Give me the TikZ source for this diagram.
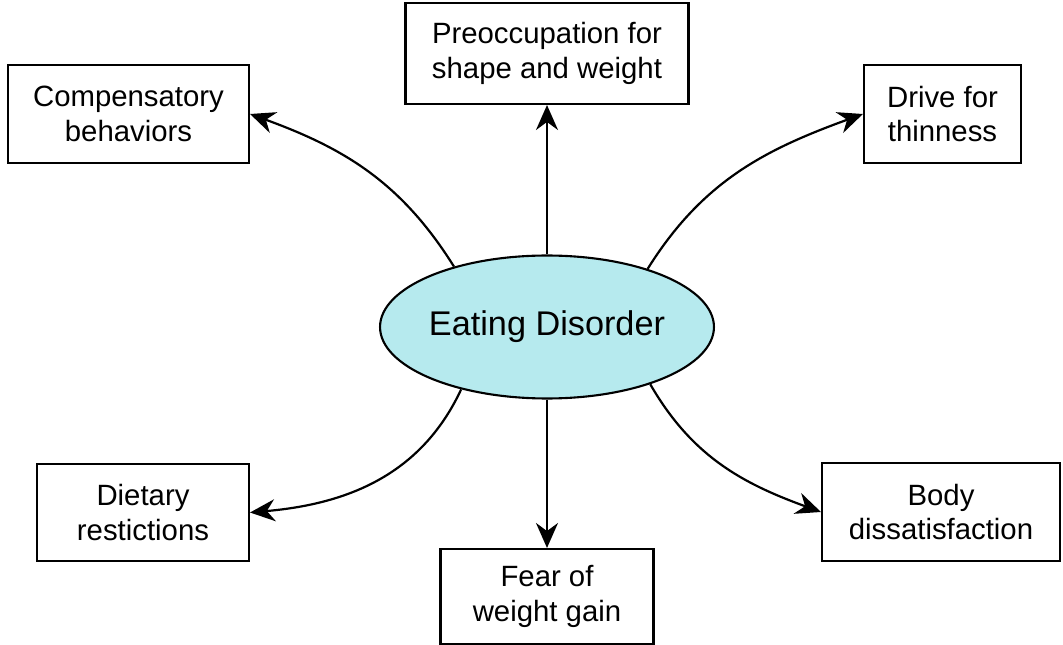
\documentclass[tikz,border=0pt]{standalone}
\usepackage{fontspec}
\setmainfont{Liberation Sans}
\usetikzlibrary{arrows.meta,shapes.geometric}
\definecolor{edfill}{RGB}{182,234,238}

\begin{document}
\begin{tikzpicture}[x=0.02cm,y=-0.02cm,
  every node/.style={},
  factor/.style={draw, line width=1.2pt, align=center, inner sep=0pt,
    font=\fontsize{16.7}{19.5}\selectfont},
  link/.style={line width=1.25pt, -{Stealth[length=0.5cm,width=0.44cm]}}]

\useasboundingbox (0,0) rectangle (1063,645);

\node(ed) [ellipse, draw, fill=edfill, line width=1.2pt, inner sep=0pt,
  minimum width=6.58cm, minimum height=2.86cm,
  font=\fontsize{19.5}{23}\selectfont] at (547,327) {Eating Disorder};

\begin{scope}[every node/.append style={factor}]
\node(pre) [minimum width=5.66cm, minimum height=2.02cm] at (547,53.5) {Preoccupation for\\shape and weight};
\node(comp) [minimum width=4.82cm, minimum height=1.96cm] at (128.5,114) {Compensatory\\behaviors};
\node(drive) [minimum width=3.14cm, minimum height=1.96cm] at (942.5,114) {Drive for\\thinness};
\node(diet) [minimum width=4.24cm, minimum height=1.94cm] at (143,512.5) {Dietary\\restictions};
\node(fear) [minimum width=4.26cm, minimum height=1.9cm] at (547,596.5) {Fear of\\weight gain};
\node(body) [minimum width=4.76cm, minimum height=1.96cm] at (941,512) {Body\\dissatisfaction};
\end{scope}

\draw[link] (ed.north) -- (pre.south);
\draw[link] (ed.147) to[out=122, in=-20] (comp.east);
\draw[link] (ed.30) to[out=58, in=200] (drive.west);
\draw[link] (ed.216) to[out=-115, in=5] (diet.east);
\draw[link] (ed.south) -- (fear.north);
\draw[link] (ed.331) to[out=-60, in=160] (body.west);

\end{tikzpicture}
\end{document}
